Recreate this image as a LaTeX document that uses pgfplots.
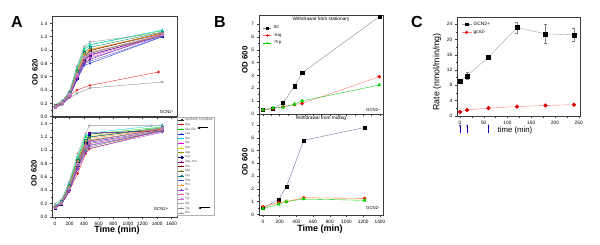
\documentclass[border=0pt]{standalone}
\usepackage{pgfplots}
\pgfplotsset{compat=1.18}
\usepackage{pgfplotstable}
\usepackage{fontspec}
\setmainfont{Liberation Sans}
\usetikzlibrary{arrows.meta}

\definecolor{cA1}{RGB}{40,40,40}
\definecolor{cA2}{RGB}{230,20,20}
\definecolor{cA3}{RGB}{0,200,0}
\definecolor{cA4}{RGB}{30,30,230}
\definecolor{cA5}{RGB}{0,215,230}
\definecolor{cA6}{RGB}{230,0,230}
\definecolor{cA7}{RGB}{225,210,0}
\definecolor{cA8}{RGB}{150,140,0}
\definecolor{cA9}{RGB}{0,0,128}
\definecolor{cA10}{RGB}{128,0,128}
\definecolor{cA11}{RGB}{128,0,0}
\definecolor{cA12}{RGB}{110,120,30}
\definecolor{cA13}{RGB}{0,128,128}
\definecolor{cA14}{RGB}{60,90,200}
\definecolor{cA15}{RGB}{255,130,0}
\definecolor{cA16}{RGB}{140,60,230}
\definecolor{cA17}{RGB}{240,90,160}
\definecolor{cA18}{RGB}{200,110,200}
\definecolor{cA19}{RGB}{170,170,170}
\definecolor{cA20}{RGB}{130,130,130}
\definecolor{cA21}{RGB}{150,150,150}
\definecolor{axgray}{RGB}{60,60,60}

\pgfplotscreateplotcyclelist{aalist}{
{cA1,mark=square*},
{cA2,mark=*},
{cA3,mark=triangle*},
{cA4,mark=triangle*,mark options={rotate=180}},
{cA5,mark=diamond*},
{cA6,mark=triangle*,mark options={rotate=90}},
{cA7,mark=triangle*,mark options={rotate=270}},
{cA8,mark=pentagon*},
{cA9,mark=square*},
{cA10,mark=*},
{cA11,mark=triangle*},
{cA12,mark=diamond*},
{cA13,mark=square},
{cA14,mark=o},
{cA15,mark=triangle},
{cA16,mark=diamond},
{cA17,mark=pentagon},
{cA18,mark=square*},
{cA19,mark=triangle},
{cA20,mark=o},
{cA21,mark=o}}

\pgfplotstableread{
t SC Arg GlnGlu Leu Ser Gly Asn Asp Cys AspAsn Glu Met Lys Phe Pro Ile Thr Tyr Val Trp His
0 0.17 0.15 0.15 0.14 0.16 0.15 0.16 0.15 0.14 0.13 0.16 0.15 0.16 0.15 0.16 0.14 0.15 0.15 0.16 0.15 0.18
100 0.22 0.20 0.22 0.20 0.23 0.20 0.22 0.21 0.20 0.19 0.21 0.20 0.23 0.20 0.22 0.19 0.21 0.21 0.22 0.18 0.24
200 0.33 0.32 0.36 0.30 0.38 0.33 0.35 0.34 0.32 0.30 0.33 0.32 0.36 0.31 0.35 0.31 0.33 0.33 0.34 0.28 0.38
300 0.62 0.40 0.70 0.55 0.74 0.60 0.65 0.62 0.58 0.56 0.63 0.60 0.68 0.57 0.66 0.58 0.60 0.63 0.64 0.35 0.75
400 0.88 nan 1.00 0.77 1.02 0.85 0.92 0.88 0.85 0.80 0.90 0.86 0.96 0.79 0.94 0.82 0.84 0.89 0.91 nan 1.05
480 1.00 0.47 1.08 0.80 1.08 0.92 1.00 0.96 0.93 0.86 0.99 0.95 1.04 0.83 1.01 0.88 0.90 0.95 0.97 0.43 1.12
1420 nan 0.67 nan nan nan nan nan nan nan nan nan nan nan nan nan nan nan nan nan nan nan
1470 1.24 nan 1.29 1.20 1.30 1.23 1.25 1.22 1.21 1.24 1.26 1.22 1.27 1.20 1.25 1.21 1.23 1.24 1.22 0.52 1.26
}\tabAtop

\pgfplotstableread{
t SC Arg GlnGlu Leu Ser Gly Asn Asp Cys AspAsn Glu Met Lys Phe Pro Ile Thr Tyr Val Trp His
0 0.15 0.14 0.16 0.15 0.17 0.14 0.16 0.15 0.14 0.13 0.15 0.15 0.16 0.15 0.16 0.14 0.15 0.15 0.16 0.15 0.20
90 0.20 0.19 0.22 0.21 0.24 0.20 0.22 0.21 0.20 0.19 0.21 0.20 0.23 0.20 0.22 0.20 0.21 0.21 0.22 0.21 0.26
190 0.42 0.38 0.48 0.45 0.50 0.40 0.46 0.44 0.42 0.38 0.43 0.41 0.47 0.40 0.45 0.39 0.41 0.43 0.44 0.42 0.52
310 0.80 0.65 0.88 0.82 0.90 0.75 0.86 0.80 0.78 0.72 0.80 0.76 0.85 0.74 0.84 0.72 0.77 0.79 0.81 0.78 0.95
420 1.10 0.95 1.20 1.10 1.22 1.05 1.15 1.08 1.12 1.05 1.08 1.00 1.15 0.98 1.12 0.96 1.03 1.06 1.09 1.04 1.25
470 1.20 1.02 1.24 1.12 1.26 1.08 1.22 1.15 1.25 1.26 1.14 1.05 1.20 1.07 1.18 1.03 1.10 1.13 1.16 1.10 1.37
1325 nan nan nan nan nan nan nan nan nan nan nan nan nan nan nan nan nan nan nan nan 1.37
1470 1.33 1.30 1.35 1.30 1.38 1.28 1.33 1.31 1.30 1.29 1.32 1.30 1.34 1.29 1.32 1.27 1.31 1.33 1.30 1.29 1.38
}\tabAbot

\pgfplotstableread{
t SC Arg Trp
0 0.30 0.30 0.30
120 0.40 0.40 0.45
240 0.85 0.55 0.50
376 2.15 0.72 0.75
468 3.20 0.80 1.00
1392 7.60 2.90 2.25
}\tabBtop

\pgfplotstableread{
t SC Arg Trp
0 0.50 0.60 0.45
188 1.15 0.92 0.80
280 2.15 1.00 1.00
488 5.80 1.30 1.20
1216 6.80 1.25 1.10
}\tabBbot

\pgfplotstableread{
t gp gperr gm
0 9.0 0.3 1.0
15 10.5 0.9 1.5
60 15.4 0.4 2.0
120 23.1 1.5 2.4
180 21.5 2.4 2.7
240 21.2 1.7 2.9
}\tabC

\pgfplotsset{
  base/.style={
    scale only axis,
    axis line style={axgray, line width=0.5pt},
    tick style={axgray, line width=0.4pt},
    tick align=outside,
    major tick length=2pt,
    minor tick length=1.2pt,
    xtick pos=bottom, ytick pos=left,
    minor x tick num=1, minor y tick num=1,
    tick label style={font=\fontsize{4.8}{5}\selectfont},
    /pgf/number format/assume math mode=true,
    /pgf/number format/1000 sep={},
    xticklabel style={yshift=0.8pt},
    yticklabel style={xshift=0.8pt},
    clip=false,
  },
  Aax/.style={base, width=125pt, height=100pt, xmin=-41, xmax=1673, ymin=0, ymax=1.5,
    ytick={0,0.2,...,1.41},
    yticklabel style={/pgf/number format/.cd, fixed, fixed zerofill, precision=1},
    xtick={0,200,...,1600},
    cycle list name=aalist,
    unbounded coords=discard,
    every axis plot/.append style={line width=0.35pt, mark size=1.1pt},
  },
  Bax/.style={base, width=124.5pt, xmin=-50, xmax=1440,
    ytick={0,1,...,7}, xtick={0,200,...,1400},
    every axis plot/.append style={line width=0.35pt, mark size=1.6pt},
  },
}

\begin{document}
\begin{tikzpicture}
\path[use as bounding box] (0pt,0pt) rectangle (600pt,-245pt);

% ---------------- Panel A top ----------------
\begin{axis}[Aax, at={(52pt,-16.7pt)}, anchor=north west, xticklabels={}]
\pgfplotsinvokeforeach{SC,Arg,GlnGlu,Leu,Ser,Gly,Asn,Asp,Cys,AspAsn,Glu,Met,Lys,Phe,Pro,Ile,Thr,Tyr,Val,Trp,His}{
  \addplot table[x=t, y=#1] {\tabAtop};
}
\node[anchor=south east, font=\fontsize{4.3}{5}\selectfont, inner sep=1pt] at (rel axis cs:0.98,0.02) {GCN2-};
\end{axis}

% ---------------- Panel A bottom ----------------
\begin{axis}[Aax, at={(52pt,-117pt)}, anchor=north west,
  legend entries={Synthetic Complete,Arg,Glu-Gln,Leu,Ser,Gly,Asn,Asp,Cys,Asp-Asn,Glu,Met,Lys,Phe,Pro,Ile,Thr,Tyr,Val,Trp,His},
  legend style={at={(rel axis cs:1,1)}, anchor=north west, draw=gray!60, line width=0.3pt,
    font=\fontsize{3.2}{3.6}\selectfont, inner xsep=1.2pt, inner ysep=0.8pt, row sep=0.75pt, text=black!70,
    nodes={inner sep=0.4pt, text height=2.4pt, text depth=0.7pt}},
  legend image code/.code={\draw[mark repeat=2, mark phase=2, #1, line width=0.25pt, mark size=0.65pt] plot coordinates {(0pt,0pt) (3pt,0pt) (6pt,0pt)};},
  legend cell align=left]
\pgfplotsinvokeforeach{SC,Arg,GlnGlu,Leu,Ser,Gly,Asn,Asp,Cys,AspAsn,Glu,Met,Lys,Phe,Pro,Ile,Thr,Tyr,Val,Trp,His}{
  \addplot table[x=t, y=#1] {\tabAbot};
}
\node[anchor=south east, font=\fontsize{4.3}{5}\selectfont, inner sep=1pt] at (rel axis cs:0.94,0.05) {GCN2+};
\end{axis}

% ---------------- Panel B top ----------------
\begin{axis}[Bax, at={(258.8pt,-15pt)}, anchor=north west, height=99.5pt, ymin=-0.06, ymax=7.73, xticklabels={},
  legend style={at={(rel axis cs:0.03,0.92)}, anchor=north west, draw=none, fill=none,
    font=\fontsize{4.2}{4.6}\selectfont, inner sep=0.5pt, row sep=-0.8pt},
  legend image code/.code={\draw[mark repeat=2, mark phase=2, #1,line width=0.35pt, mark size=1.1pt] plot coordinates {(0pt,0pt) (4pt,0pt) (8pt,0pt)};},
  legend cell align=left]
\addplot[color=gray, mark=square*, mark options={black, fill=black}] table[x=t,y=SC] {\tabBtop};
\addplot[color=red!60, mark=*, mark options={red!90!black, fill=red!90!black}] table[x=t,y=Arg] {\tabBtop};
\addplot[color=green!80!black, mark=triangle*, mark options={green!85!black, fill=green!85!black}, mark size=1.9pt] table[x=t,y=Trp] {\tabBtop};
\legend{SC,-Arg,-Trp}
\node[anchor=north, font=\fontsize{4.8}{5}\selectfont, inner sep=1pt] at (rel axis cs:0.5,0.99) {Withdrawal from stationary};
\node[anchor=south east, font=\fontsize{4.3}{5}\selectfont, inner sep=1pt] at (rel axis cs:0.98,0.02) {GCN2-};
\end{axis}

% ---------------- Panel B bottom ----------------
\begin{axis}[Bax, at={(258.8pt,-114.5pt)}, anchor=north west, height=100.5pt, ymin=-0.05, ymax=7.82]
\addplot[color=gray!80!blue, mark=square*, mark options={black, fill=black}] table[x=t,y=SC] {\tabBbot};
\addplot[color=orange!80!red, mark=*, mark options={red!80!orange, fill=red!80!orange}] table[x=t,y=Arg] {\tabBbot};
\addplot[color=green!80!black, mark=triangle*, mark options={green!85!black, fill=green!85!black}, mark size=1.9pt] table[x=t,y=Trp] {\tabBbot};
\node[anchor=north, font=\fontsize{4.8}{5}\selectfont, inner sep=1pt] at (rel axis cs:0.5,0.995) {Withdrawal from midlog};
\node[anchor=south east, font=\fontsize{4.3}{5}\selectfont, inner sep=1pt] at (rel axis cs:0.98,0.04) {GCN2-};
\end{axis}

% ---------------- Panel C ----------------
\begin{axis}[base, at={(457pt,-17pt)}, anchor=north west, width=123pt, height=99.5pt,
  xmin=-6.3, xmax=252.7, ymin=-0.2, ymax=25.9,
  xtick={0,50,...,250}, ytick={0,4,...,24},
  legend style={at={(rel axis cs:0.03,0.98)}, anchor=north west, draw=none, fill=none,
    font=\fontsize{4.8}{5.2}\selectfont, inner sep=0.5pt, row sep=-0.5pt},
  legend image code/.code={\draw[mark repeat=2, mark phase=2, #1,line width=0.35pt, mark size=1.4pt] plot coordinates {(0pt,0pt) (5pt,0pt) (10pt,0pt)};},
  legend cell align=left]
\addplot[color=gray!70, line width=0.4pt, mark=square*, mark size=2pt, mark options={black, fill=black},
  error bars/.cd, y dir=both, y explicit, error bar style={gray, line width=0.4pt}, error mark options={gray, mark size=1.5pt, rotate=90}]
  table[x=t, y=gp, y error=gperr] {\tabC};
\addplot[color=red!50, line width=0.4pt, mark=*, mark size=1.9pt, mark options={red!85!black, fill=red!85!black}]
  table[x=t, y=gm] {\tabC};
\legend{GCN2+,gcn2-}
\draw[-{Latex[length=2.2pt,width=1.8pt]}, blue!70!black, line width=0.6pt] (axis cs:0,-4.6) -- (axis cs:0,-2.2);
\draw[-{Latex[length=2.2pt,width=1.8pt]}, blue!70!black, line width=0.6pt] (axis cs:15,-4.6) -- (axis cs:15,-2.2);
\draw[-{Latex[length=2.2pt,width=1.8pt]}, blue!70!black, line width=0.6pt] (axis cs:60,-4.6) -- (axis cs:60,-2.2);
\end{axis}

% ---------------- labels ----------------
\node[font=\fontsize{16}{16}\selectfont\bfseries] at (17pt,-22pt) {A};
\node[font=\fontsize{16}{16}\selectfont\bfseries] at (220pt,-22pt) {B};
\node[font=\fontsize{16}{16}\selectfont\bfseries] at (417pt,-22pt) {C};

\node[rotate=90, font=\fontsize{7.6}{8}\selectfont\bfseries] at (35pt,-72pt) {OD 620};
\node[rotate=90, font=\fontsize{7.6}{8}\selectfont\bfseries] at (34pt,-173pt) {OD 620};
\node[font=\fontsize{9}{9}\selectfont\bfseries] at (117pt,-230pt) {Time (min)};

\node[rotate=90, font=\fontsize{7.8}{8}\selectfont\bfseries] at (245pt,-60pt) {OD 600};
\node[rotate=90, font=\fontsize{7.8}{8}\selectfont\bfseries] at (245pt,-162pt) {OD 600};
\node[font=\fontsize{9}{9}\selectfont\bfseries] at (320pt,-229pt) {Time (min)};

\node[rotate=90, font=\fontsize{8.8}{9}\selectfont] at (437pt,-72pt) {Rate (nmol/min/mg)};
\node[font=\fontsize{7.8}{8}\selectfont] at (515pt,-130pt) {time (min)};

% arrows in legend of A
\draw[-{Latex[length=3pt,width=2.6pt]}, line width=1pt] (208pt,-128pt) -- (197pt,-128pt);
\draw[-{Latex[length=3pt,width=2.6pt]}, line width=1pt] (210pt,-208pt) -- (198pt,-208pt);
\end{tikzpicture}
\end{document}
